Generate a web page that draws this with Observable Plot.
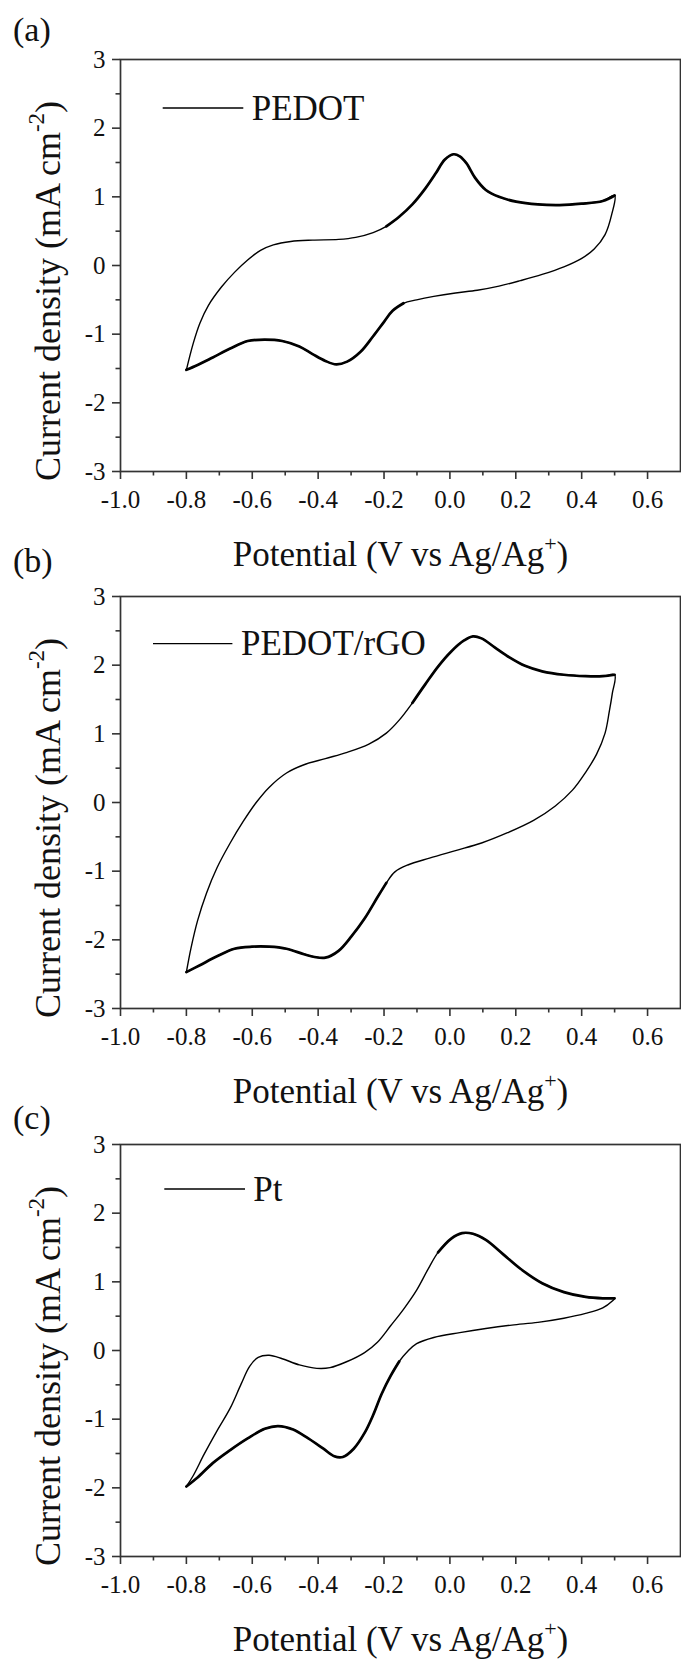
<!DOCTYPE html>
<html><head><meta charset="utf-8">
<script src="https://cdn.jsdelivr.net/npm/d3@7"></script>
<script src="https://cdn.jsdelivr.net/npm/@observablehq/plot@0.6"></script>
<style>
body{margin:0;background:#fff;}
#root{position:relative;width:681px;height:1661px;overflow:hidden;background:#fff;}
#root svg{position:absolute;left:0;overflow:visible;background:transparent;font-family:"Liberation Serif","Times New Roman",serif;}
#root svg text{font-family:"Liberation Serif","Times New Roman",serif;}
</style></head><body><div id="root"></div>
<script>
const xTicks = [-1.0,-0.8,-0.6,-0.4,-0.2,0.0,0.2,0.4,0.6];
const xMinorTicks = [-0.9,-0.7,-0.5,-0.3,-0.1,0.1,0.3,0.5];
const yTicks = [-3,-2,-1,0,1,2,3];
const yMinorTicks = [-2.5,-1.5,-0.5,0.5,1.5,2.5];
const panelLabels = ["(a)","(b)","(c)"];
const seriesNames = ["PEDOT","PEDOT/rGO","Pt"];

// Panel (a) PEDOT: anodic branch then cathodic branch [V, mA cm-2]
const pedot = [
 [-0.80,-1.52],[-0.779,-1.13],[-0.759,-0.84],[-0.733,-0.58],[-0.693,-0.31],[-0.654,-0.10],[-0.614,0.08],
 [-0.575,0.22],[-0.536,0.30],[-0.483,0.35],[-0.417,0.37],[-0.338,0.38],[-0.286,0.41],[-0.233,0.48],
 [-0.193,0.57],[-0.154,0.71],[-0.114,0.89],[-0.075,1.12],[-0.042,1.35],[-0.016,1.54],[0.011,1.62],
 [0.030,1.59],[0.050,1.49],[0.076,1.28],[0.109,1.10],[0.149,1.00],[0.201,0.93],[0.267,0.89],
 [0.333,0.88],[0.399,0.90],[0.464,0.94],[0.500,1.02],
 [0.491,0.74],[0.471,0.45],[0.438,0.24],[0.399,0.10],[0.346,-0.02],[0.280,-0.13],[0.214,-0.22],
 [0.149,-0.30],[0.083,-0.36],[0.017,-0.40],[-0.049,-0.45],[-0.101,-0.50],[-0.141,-0.55],[-0.174,-0.66],
 [-0.200,-0.82],[-0.233,-1.03],[-0.272,-1.26],[-0.312,-1.40],[-0.345,-1.44],[-0.378,-1.39],[-0.417,-1.29],
 [-0.457,-1.18],[-0.509,-1.10],[-0.562,-1.08],[-0.614,-1.10],[-0.667,-1.21],[-0.720,-1.34],[-0.766,-1.45],
 [-0.80,-1.52]
];
// Panel (b) PEDOT/rGO
const pedotRgo = [
 [-0.80,-2.47],[-0.786,-2.12],[-0.766,-1.72],[-0.739,-1.32],[-0.707,-0.95],[-0.667,-0.59],[-0.628,-0.28],
 [-0.588,0.00],[-0.549,0.22],[-0.496,0.43],[-0.443,0.55],[-0.378,0.64],[-0.312,0.73],[-0.246,0.85],
 [-0.193,1.01],[-0.154,1.20],[-0.114,1.45],[-0.075,1.72],[-0.036,1.98],[0.004,2.20],[0.043,2.36],
 [0.070,2.42],[0.096,2.39],[0.136,2.26],[0.182,2.11],[0.228,1.99],[0.280,1.91],[0.346,1.86],
 [0.412,1.84],[0.464,1.84],[0.500,1.86],
 [0.493,1.59],[0.484,1.33],[0.471,1.01],[0.445,0.70],[0.412,0.44],[0.372,0.18],[0.320,-0.05],
 [0.254,-0.26],[0.175,-0.44],[0.096,-0.59],[0.017,-0.70],[-0.062,-0.81],[-0.128,-0.91],[-0.167,-1.01],
 [-0.193,-1.17],[-0.220,-1.38],[-0.259,-1.69],[-0.299,-1.95],[-0.338,-2.16],[-0.378,-2.26],[-0.411,-2.25],
 [-0.443,-2.21],[-0.496,-2.13],[-0.549,-2.10],[-0.601,-2.10],[-0.654,-2.13],[-0.707,-2.24],[-0.759,-2.37],
 [-0.80,-2.47]
];
// Panel (c) Pt
const pt = [
 [-0.80,-1.98],[-0.779,-1.82],[-0.746,-1.51],[-0.707,-1.17],[-0.667,-0.84],[-0.634,-0.49],[-0.608,-0.23],
 [-0.582,-0.10],[-0.549,-0.07],[-0.509,-0.12],[-0.457,-0.21],[-0.404,-0.26],[-0.364,-0.25],[-0.312,-0.16],
 [-0.259,-0.03],[-0.220,0.12],[-0.180,0.36],[-0.141,0.60],[-0.101,0.88],[-0.068,1.17],[-0.036,1.43],
 [0.004,1.63],[0.037,1.71],[0.070,1.70],[0.109,1.61],[0.162,1.40],[0.214,1.19],[0.280,0.98],
 [0.346,0.85],[0.412,0.78],[0.464,0.76],[0.500,0.76],
 [0.493,0.72],[0.464,0.62],[0.412,0.54],[0.346,0.47],[0.267,0.41],[0.188,0.37],[0.109,0.32],
 [0.030,0.26],[-0.049,0.19],[-0.101,0.10],[-0.128,-0.01],[-0.154,-0.16],[-0.180,-0.37],[-0.207,-0.63],
 [-0.233,-0.94],[-0.259,-1.20],[-0.292,-1.43],[-0.325,-1.55],[-0.351,-1.54],[-0.384,-1.43],[-0.430,-1.28],
 [-0.476,-1.15],[-0.522,-1.10],[-0.562,-1.14],[-0.614,-1.28],[-0.667,-1.45],[-0.720,-1.64],[-0.766,-1.85],
 [-0.80,-1.98]
];
const panelData = [pedot, pedotRgo, pt];

// styling: potentials beyond which the trace is drawn heavier (overlapping cycles)
const heavyFrom = [{up: -0.22, low: -0.14}, {up: -0.12, low: -0.17}, {up: -0.06, low: -0.13}];

// layout (pixels)
const svgTops = [0, 537, 1084.5];
const labelBaselines = [40.7, 34.5, 43.5];
const legendLayout = [
  {y: 108, x1: 162.7, x2: 243.3, tx: 251.7, ty: 120},
  {y: 106.6, x1: 153, x2: 232.4, tx: 241, ty: 118},
  {y: 104, x1: 164.3, x2: 245, tx: 253.3, ty: 116}
];
const FONT = '"Liberation Serif","Times New Roman",serif';
const AX = "#333";
const fmtX = d => (d < 0 ? "-" : "") + Math.abs(d).toFixed(1);
const fmtY = d => (d < 0 ? "-" : "") + Math.abs(d);

const root = document.getElementById("root");
panelData.forEach((data, i) => {
  const vtx = d3.maxIndex(data, d => d[0]);
  const upIdx = data.findIndex((d, k) => k <= vtx && d[0] >= heavyFrom[i].up);
  const lowIdx = data.findIndex((d, k) => k > vtx && d[0] <= heavyFrom[i].low);
  const heavyUp = data.slice(upIdx, vtx + 1);
  const heavyLow = data.slice(lowIdx);
  const svg = Plot.plot({
    width: 681, height: 581,
    marginTop: 59, marginBottom: 110, marginLeft: 120, marginRight: 1,
    x: {domain: [-1.0, 0.7]},
    y: {domain: [-3, 3]},
    style: {fontFamily: FONT, background: "transparent", overflow: "visible", color: "#111"},
    marks: [
      Plot.frame({stroke: AX, strokeWidth: 1.7}),
      Plot.axisX(xTicks, {tickSize: 8, tickPadding: 11, fontSize: 25, fontFamily: FONT, tickFormat: fmtX, label: null, stroke: AX, strokeWidth: 1.6}),
      Plot.axisX(xMinorTicks, {tickSize: 4.5, fill: "none", label: null, stroke: AX, strokeWidth: 1.6}),
      Plot.axisY(yTicks, {tickSize: 8, tickPadding: 7, fontSize: 25, fontFamily: FONT, tickFormat: fmtY, label: null, stroke: AX, strokeWidth: 1.6}),
      Plot.axisY(yMinorTicks, {tickSize: 4.5, fill: "none", label: null, stroke: AX, strokeWidth: 1.6}),
      Plot.line(data, {x: d => d[0], y: d => d[1], curve: "catmull-rom", stroke: "black", strokeWidth: 1.4}),
      Plot.line(heavyUp, {x: d => d[0], y: d => d[1], curve: "catmull-rom", stroke: "black", strokeWidth: 2.7}),
      Plot.line(heavyLow, {x: d => d[0], y: d => d[1], curve: "catmull-rom", stroke: "black", strokeWidth: 2.7})
    ]
  });
  svg.style.top = svgTops[i] + "px";
  const s = d3.select(svg);
  // panel label
  s.append("text").attr("x", 13).attr("y", labelBaselines[i]).attr("text-anchor", "start")
    .attr("font-family", FONT).attr("font-size", 34).attr("fill", "#111").text(panelLabels[i]);
  // legend
  const L = legendLayout[i];
  s.append("line").attr("x1", L.x1).attr("x2", L.x2).attr("y1", L.y).attr("y2", L.y)
    .attr("stroke", "black").attr("stroke-width", 1.4);
  s.append("text").attr("x", L.tx).attr("y", L.ty).attr("text-anchor", "start")
    .attr("font-family", FONT).attr("font-size", 35).attr("fill", "#111").text(seriesNames[i]);
  // y title
  const yt = s.append("text").attr("transform", "translate(60,291) rotate(-90)")
    .attr("text-anchor", "middle").attr("font-family", FONT).attr("font-size", 36).attr("fill", "#111");
  yt.append("tspan").text("Current density (mA cm");
  yt.append("tspan").attr("font-size", 23).attr("dy", -16).text("-2");
  yt.append("tspan").attr("dy", 16).text(")");
  // x title
  const xt = s.append("text").attr("x", 400.5).attr("y", 565.5)
    .attr("text-anchor", "middle").attr("font-family", FONT).attr("font-size", 35).attr("fill", "#111");
  xt.append("tspan").text("Potential (V vs Ag/Ag");
  xt.append("tspan").attr("font-size", 22).attr("dy", -15).text("+");
  xt.append("tspan").attr("dy", 15).text(")");
  root.appendChild(svg);
});
</script></body></html>
